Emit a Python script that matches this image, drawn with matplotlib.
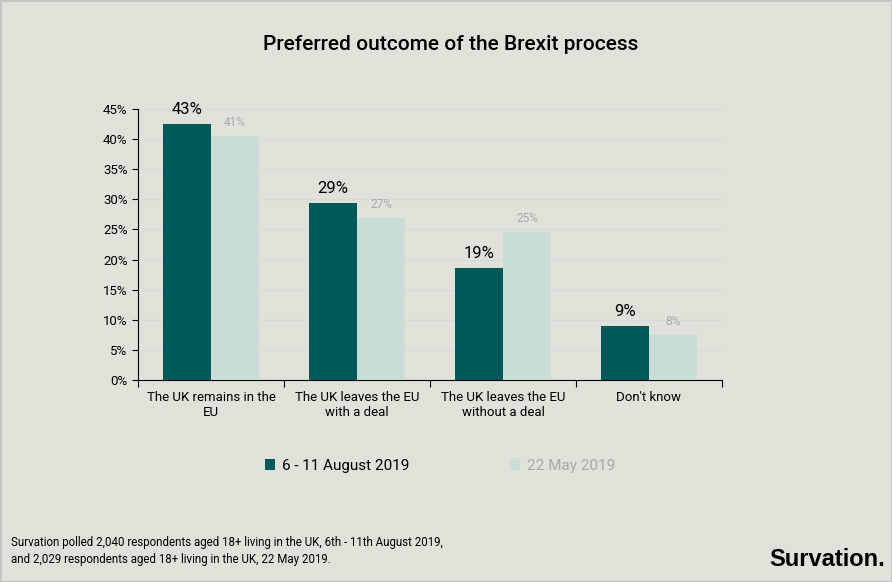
import matplotlib.pyplot as plt
import numpy as np

# data
categories = ['The UK remains in the\nEU', 'The UK leaves the EU\nwith a deal',
              'The UK leaves the EU\nwithout a deal', "Don't know"]
aug_2019 = [42.5, 29.4, 18.6, 9.0]
may_2019 = [40.5, 26.9, 24.6, 7.5]
aug_labels = ['43%', '29%', '19%', '9%']
may_labels = ['41%', '27%', '25%', '8%']
yticks = [0, 5, 10, 15, 20, 25, 30, 35, 40, 45]

bg = '#E0E1D9'
dark = '#00585A'
light = '#CADCD6'

plt.rcParams['font.family'] = ['Roboto', 'DejaVu Sans']

fig = plt.figure(figsize=(8.92, 5.82), dpi=100, facecolor=bg,
                 edgecolor='#C4C4C0', linewidth=1)
ax = fig.add_axes([0.1547, 0.347, 0.6547, 0.466])
ax.set_facecolor(bg)

x = np.arange(len(categories))
w = 0.33
b1 = ax.bar(x - w / 2, aug_2019, w, color=dark, label='6 - 11 August 2019', zorder=3)
b2 = ax.bar(x + w / 2, may_2019, w, color=light, label='22 May 2019', zorder=3)

for rect, lab in zip(b1, aug_labels):
    ax.text(rect.get_x() + rect.get_width() / 2, rect.get_height() + 1.2, lab,
            ha='center', va='bottom', fontsize=12, color='black')
for rect, lab in zip(b2, may_labels):
    ax.text(rect.get_x() + rect.get_width() / 2, rect.get_height() + 1.2, lab,
            ha='center', va='bottom', fontsize=8.5, color='#A8A8A8')

ax.set_xlim(-0.5, len(categories) - 0.5)
ax.set_ylim(0, 45)
ax.set_yticks(yticks)
ax.set_yticklabels([f'{t}%' for t in yticks], fontsize=9.5)
ax.yaxis.grid(True, color='#D8DADA', linewidth=0.9, zorder=0)

ax.set_xticks(np.arange(len(categories) + 1) - 0.5)
ax.set_xticklabels([])
ax.set_xticks(x, minor=True)
ax.set_xticklabels(categories, minor=True, fontsize=9.5)
ax.tick_params(axis='x', which='minor', length=0, pad=8)
ax.tick_params(axis='x', which='major', length=5, direction='out')
ax.tick_params(axis='y', length=4, direction='out')

for s in ['top', 'right']:
    ax.spines[s].set_visible(False)

leg = fig.legend(handles=[b1, b2], loc='center', bbox_to_anchor=(0.493, 0.199),
                 ncol=2, frameon=False, fontsize=11, handlelength=0.7,
                 handleheight=0.7, handletextpad=0.4, columnspacing=6.6)
leg.get_texts()[1].set_color('#A8A8A8')

fig.text(0.505, 0.924, 'Preferred outcome of the Brexit process', ha='center',
         va='center', fontsize=15, fontweight='medium')
fig.text(0.012, 0.053,
         'Survation polled 2,040 respondents aged 18+ living in the UK, 6th - 11th August 2019,\n'
         'and 2,029 respondents aged 18+ living in the UK, 22 May 2019.',
         ha='left', va='center', fontsize=8.3, linespacing=1.4)
fig.text(0.992, 0.038, 'Survation.', ha='right', va='center', fontsize=17,
         fontweight='bold', family='Liberation Sans')

fig.savefig('out.png', dpi=100, facecolor=bg, edgecolor='#C4C4C0')
